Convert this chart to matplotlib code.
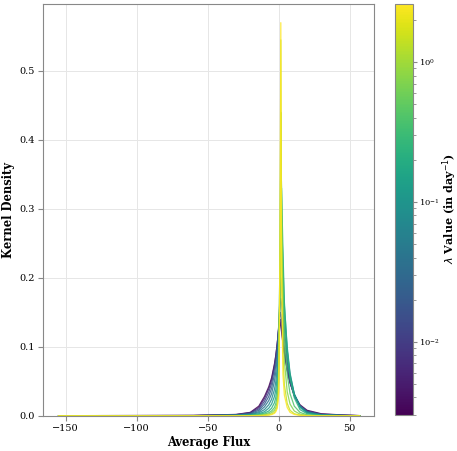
import numpy as np
import matplotlib
matplotlib.use("Agg")
import matplotlib.pyplot as plt
from matplotlib.colors import LogNorm

plt.rcParams['font.family'] = ['DejaVu Serif']

# -------------- D A T A ----------------------------------------------------------

# lambda values (in day^-1) of each curve, smallest (darkest) first
lambdas = [0.003, 0.006, 0.012, 0.022, 0.04, 0.07, 0.12, 0.22, 0.4, 0.75, 1.4, 2.6]

flux = [-155, -60, -30, -20, -14, -10, -7, -5, -3, -2, -1, 0, 1, 1.5, 2,
        3, 4, 6, 8, 11, 15, 20, 30, 45, 57]

dens_a = [0.0002, 0.0006, 0.002, 0.005, 0.014, 0.028, 0.042, 0.055, 0.075, 0.088, 0.105, 0.125, 0.135,
          0.13, 0.122, 0.105, 0.09, 0.066, 0.048, 0.03, 0.016, 0.008, 0.003, 0.0012, 0.0003]
dens_b = [0.0002, 0.0005, 0.0018, 0.0045, 0.012, 0.025, 0.039, 0.052, 0.073, 0.087, 0.105, 0.127, 0.14,
          0.136, 0.127, 0.108, 0.092, 0.067, 0.048, 0.029, 0.015, 0.007, 0.0025, 0.001, 0.0003]
dens_c = [0.0001, 0.0004, 0.0015, 0.004, 0.01, 0.021, 0.034, 0.047, 0.068, 0.083, 0.103, 0.13, 0.15,
          0.147, 0.138, 0.117, 0.098, 0.07, 0.049, 0.029, 0.014, 0.0065, 0.002, 0.0008, 0.0002]
dens_d = [0.0001, 0.0003, 0.0012, 0.0032, 0.008, 0.017, 0.028, 0.04, 0.06, 0.075, 0.097, 0.128, 0.162,
          0.17, 0.163, 0.138, 0.113, 0.078, 0.052, 0.03, 0.014, 0.006, 0.0018, 0.0007, 0.0002]
dens_e = [0.0001, 0.0002, 0.001, 0.0025, 0.006, 0.013, 0.022, 0.032, 0.05, 0.064, 0.086, 0.125, 0.18,
          0.2, 0.19, 0.155, 0.125, 0.085, 0.056, 0.031, 0.014, 0.0055, 0.0015, 0.0005, 0.0001]
dens_f = [0.0, 0.0002, 0.0007, 0.0018, 0.0045, 0.009, 0.016, 0.024, 0.038, 0.05, 0.07, 0.11, 0.18,
          0.225, 0.24, 0.19, 0.145, 0.095, 0.06, 0.032, 0.014, 0.005, 0.0012, 0.0004, 0.0001]
dens_g = [0.0, 0.0001, 0.0005, 0.0012, 0.003, 0.006, 0.011, 0.017, 0.028, 0.038, 0.056, 0.095, 0.19,
          0.26, 0.29, 0.22, 0.16, 0.1, 0.062, 0.031, 0.012, 0.004, 0.001, 0.0003, 0.0]
dens_h = [0.0, 0.0001, 0.0003, 0.0008, 0.002, 0.004, 0.007, 0.011, 0.019, 0.027, 0.042, 0.08, 0.19,
          0.29, 0.33, 0.24, 0.165, 0.095, 0.055, 0.026, 0.009, 0.003, 0.0007, 0.0002, 0.0]
dens_i = [0.0, 0.0, 0.0002, 0.0005, 0.0012, 0.0025, 0.0045, 0.007, 0.012, 0.018, 0.03, 0.07, 0.25,
          0.38, 0.33, 0.2, 0.12, 0.06, 0.032, 0.014, 0.005, 0.0015, 0.0003, 0.0001, 0.0]
dens_j = [0.0, 0.0, 0.0001, 0.0003, 0.0007, 0.0015, 0.0028, 0.0045, 0.008, 0.012, 0.02, 0.05, 0.26,
          0.44, 0.32, 0.15, 0.08, 0.035, 0.017, 0.007, 0.0025, 0.0007, 0.0001, 0.0, 0.0]
dens_k = [0.0, 0.0, 0.0001, 0.0002, 0.0004, 0.0008, 0.0015, 0.0025, 0.005, 0.008, 0.014, 0.035, 0.22,
          0.545, 0.26, 0.09, 0.045, 0.018, 0.008, 0.003, 0.001, 0.0003, 0.0, 0.0, 0.0]
dens_l = [0.0, 0.0, 0.0, 0.0001, 0.0002, 0.0005, 0.001, 0.0018, 0.0035, 0.006, 0.011, 0.03, 0.25,
          0.57, 0.2, 0.06, 0.03, 0.012, 0.005, 0.002, 0.0006, 0.0002, 0.0, 0.0, 0.0]

densities = [dens_a, dens_b, dens_c, dens_d, dens_e, dens_f,
             dens_g, dens_h, dens_i, dens_j, dens_k, dens_l]

xticks = [-150, -100, -50, 0, 50]
yticks = [0.0, 0.1, 0.2, 0.3, 0.4, 0.5]

# -------------- P L O T ----------------------------------------------------------

fig = plt.figure(figsize=(4.57, 4.51), dpi=100)
ax = fig.add_axes([0.094, 0.078, 0.724, 0.913])
cax = fig.add_axes([0.864, 0.080, 0.040, 0.911])

norm = LogNorm(vmin=0.003, vmax=2.6)
cmap = plt.get_cmap('viridis')

for lam, dens in zip(lambdas, densities):
    ax.plot(flux, dens, color=cmap(norm(lam)), lw=0.9, alpha=0.85)

ax.set_xlim(-166, 67)
ax.set_ylim(0, 0.597)
ax.set_xticks(xticks)
ax.set_yticks(yticks)
ax.grid(True, color='#e6e6e6', lw=0.7)
ax.set_axisbelow(True)
for sp in ax.spines.values():
    sp.set_color('#888888')
ax.tick_params(labelsize=7, color='#888888', length=3.5, pad=2.5)
ax.set_xlabel('Average Flux', fontsize=8.3, fontweight='bold', labelpad=2)
ax.set_ylabel('Kernel Density', fontsize=8.3, fontweight='bold', labelpad=3)

sm = plt.cm.ScalarMappable(norm=norm, cmap=cmap)
sm.set_array([])
cb = fig.colorbar(sm, cax=cax)
cb.outline.set_edgecolor('#888888')
cb.ax.tick_params(labelsize=6, color='#888888', length=3, pad=1)
cb.ax.tick_params(which='minor', color='#888888', length=1.8)
fig.text(0.983, 0.537, r'$\lambda$ Value (in day$^{-1}$)', rotation=90,
         ha='center', va='center', fontsize=8, fontweight='bold')

fig.savefig('out.png', dpi=100)
